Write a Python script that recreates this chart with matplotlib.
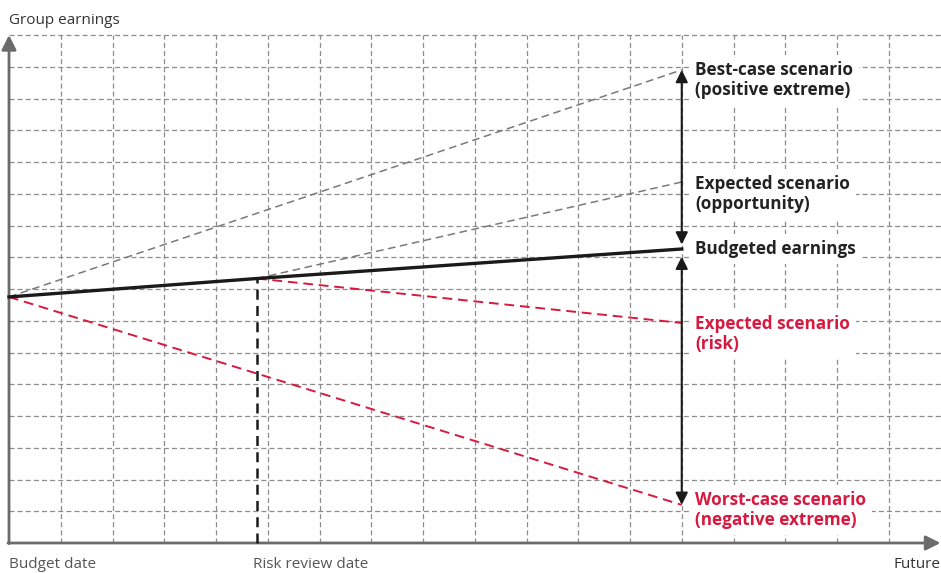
import matplotlib.pyplot as plt

# grid units: x columns, y rows
risk_review_x = 4.79
end_x = 13

budget_x = [0, risk_review_x, end_x]
budget_y = [7.75, 8.33, 9.26]

best_x = [0, end_x]
best_y = [7.75, 14.9]

opportunity_x = [risk_review_x, end_x]
opportunity_y = [8.33, 11.37]

risk_x = [risk_review_x, end_x]
risk_y = [8.33, 6.93]

worst_x = [0, end_x]
worst_y = [7.75, 1.2]

labels = [
    ("Best-case scenario\n(positive extreme)", 14.58, "#222222"),
    ("Expected scenario\n(opportunity)", 10.99, "#222222"),
    ("Budgeted earnings", 9.26, "#222222"),
    ("Expected scenario\n(risk)", 6.58, "#d7193f"),
    ("Worst-case scenario\n(negative extreme)", 1.04, "#d7193f"),
]

plt.rcParams['font.family'] = ['Open Sans', 'DejaVu Sans']

fig = plt.figure(figsize=(9.41, 5.73), dpi=100)
ax = fig.add_axes([0, 0, 1, 1])
ax.set_xlim(-9 / 51.75, 932 / 51.75)
ax.set_ylim(-30 / 31.75, 543 / 31.75)
ax.axis("off")

grid = dict(color="#8c8c8c", lw=0.9, linestyle=(0, (4, 2.5)), zorder=1)
for k in range(1, 18):
    ax.plot([k, k], [0, 16], **grid)
for k in range(1, 17):
    ax.plot([0, 18], [k, k], **grid)

axis_col = "#6b6b6b"
ax.annotate("", xy=(18.0, 0), xytext=(-0.02, 0),
            arrowprops=dict(arrowstyle="-|>", color=axis_col, lw=2, mutation_scale=22,
                            shrinkA=0, shrinkB=0), zorder=3)
ax.annotate("", xy=(0, 16.0), xytext=(0, -0.02),
            arrowprops=dict(arrowstyle="-|>", color=axis_col, lw=2, mutation_scale=22,
                            shrinkA=0, shrinkB=0), zorder=3)

# scenario lines
ax.plot(best_x, best_y, color="#7a7a7a", lw=1.1, linestyle=(0, (5, 3)), zorder=4)
ax.plot(opportunity_x, opportunity_y, color="#7a7a7a", lw=1.1, linestyle=(0, (5, 3)), zorder=4)
ax.plot(risk_x, risk_y, color="#d7193f", lw=1.4, linestyle=(0, (5, 3)), zorder=4)
ax.plot(worst_x, worst_y, color="#d7193f", lw=1.4, linestyle=(0, (5, 3)), zorder=4)
ax.plot(budget_x, budget_y, color="#1a1a1a", lw=2.4, zorder=5)

# risk review marker
ax.plot([risk_review_x, risk_review_x], [0, budget_y[1]], color="#1a1a1a", lw=1.8,
        linestyle=(0, (4, 2.5)), zorder=5)

# range arrows
arr = dict(arrowstyle="<|-|>", color="#1a1a1a", lw=1.5, mutation_scale=18,
           shrinkA=0, shrinkB=0)
ax.annotate("", xy=(end_x, best_y[1]), xytext=(end_x, budget_y[2] + 0.14),
            arrowprops=arr, zorder=7)
ax.annotate("", xy=(end_x, budget_y[2] - 0.24), xytext=(end_x, worst_y[1]),
            arrowprops=arr, zorder=7)

for text, y, col in labels:
    ax.text(13.26, y, text, color=col, fontsize=12.3, fontweight="bold", va="center",
            ha="left", linespacing=1.2, zorder=6,
            bbox=dict(facecolor="white", edgecolor="none", pad=4))

txt_col = "#555555"
ax.text(0, 16.45, "Group earnings", color="#333333", fontsize=11, va="center", ha="left")
ax.text(0, -0.69, "Budget date", color=txt_col, fontsize=11, va="center", ha="left")
ax.text(risk_review_x - 0.08, -0.69, "Risk review date", color=txt_col, fontsize=11,
        va="center", ha="left")
ax.text(18.0, -0.69, "Future", color="#333333", fontsize=11, va="center", ha="right")

fig.savefig("out.png", dpi=100)
